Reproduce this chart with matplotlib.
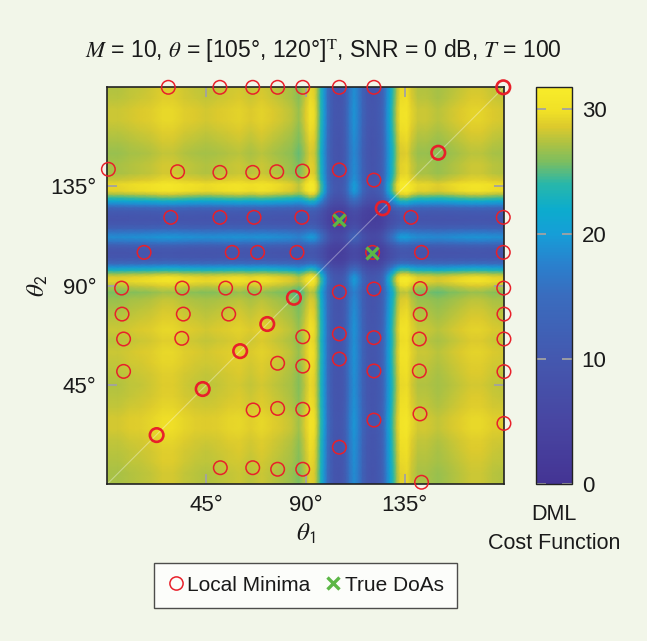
import numpy as np
import matplotlib
matplotlib.use("Agg")
import matplotlib.pyplot as plt
from matplotlib.colors import LinearSegmentedColormap
from matplotlib.lines import Line2D

plt.rcParams['font.family'] = ['Liberation Sans', 'DejaVu Sans']
plt.rcParams['mathtext.fontset'] = 'stix'

# ---- data ----
# 1-D cost profile (degrees, cost level) read across the image; the 2-D table is built from it
theta_grid = [0, 5, 10, 15, 20, 25, 30, 35, 40, 45, 50, 55, 60, 65, 70, 75, 80, 84, 87, 90,
              92, 94, 95.5, 97, 98.5, 100, 101.5, 103, 105, 107, 108.5, 110, 112, 114, 116,
              118, 120, 122, 124, 125.5, 127, 128.5, 130, 131.5, 133, 136, 138, 141, 145,
              150, 155, 160, 165, 170, 175, 180]
cost_profile = [28.5, 28.5, 28.8, 29.0, 29.3, 29.8, 29.8, 29.3, 29.0, 28.8, 29.0, 29.3, 29.5,
                29.0, 29.5, 29.0, 28.5, 28.0, 27.0, 29.0, 30.5, 30.0, 27.5, 24.0, 20.0, 15.5,
                12.0, 10.0, 9.5, 10.5, 13.0, 17.0, 19.5, 17.5, 13.0, 10.5, 9.5, 10.0, 11.5,
                14.5, 19.0, 22.5, 25.5, 28.5, 30.5, 30.8, 29.5, 28.5, 28.5, 28.0, 28.5, 29.0,
                29.5, 29.5, 29.0, 28.8]
cost_ref = 30.0

minima_theta1 = [27.7, 51.1, 66.0, 77.3, 88.7, 105.3, 121.0, 179.7,
                 0.5, 31.9, 51.1, 66.0, 76.9, 88.6, 105.3, 121.0, 150.2,
                 28.8, 51.1, 66.6, 88.3, 105.3, 125.0, 137.8, 179.7,
                 16.7, 56.7, 68.2, 86.1, 120.4, 142.6, 179.7,
                 6.5, 34.0, 53.7, 66.8, 84.7, 105.3, 121.0, 142.0, 179.9,
                 6.7, 34.5, 55.1, 72.6, 142.0, 180.0,
                 7.4, 33.8, 88.7, 105.3, 121.0, 141.6, 180.0,
                 60.3, 77.3, 88.7, 105.3, 121.0, 141.6, 180.0, 7.4,
                 43.3, 66.2, 77.3, 88.7, 121.0, 141.9, 180.0,
                 22.4, 51.3, 66.0, 77.3, 88.7, 105.3, 142.6]
minima_theta2 = [180.0, 180.0, 180.0, 180.0, 180.0, 180.0, 180.0, 180.0,
                 142.8, 141.7, 141.4, 141.4, 141.7, 142.0, 142.5, 137.9, 150.3,
                 121.0, 121.0, 121.0, 121.0, 120.6, 125.1, 121.0, 121.0,
                 105.1, 105.1, 105.1, 105.1, 105.1, 105.1, 105.1,
                 88.9, 88.9, 88.9, 88.9, 84.5, 87.1, 88.5, 88.7, 88.9,
                 77.1, 77.1, 77.1, 72.6, 77.0, 77.1,
                 65.8, 66.1, 66.8, 68.1, 66.4, 65.8, 65.8,
                 60.3, 54.8, 53.5, 56.7, 51.3, 51.3, 51.0, 51.1,
                 43.1, 33.6, 34.3, 33.9, 29.0, 31.8, 27.5,
                 22.2, 7.4, 7.4, 6.7, 6.7, 16.7, 0.8]

true_theta1 = [105, 120]
true_theta2 = [120, 105]

xticks = [45, 90, 135]
xtick_labels = ['45°', '90°', '135°']
cbar_ticks = [0, 10, 20, 30]
cmax = 31.7

# ---- colormap (style) ----
cb_levels = [0, 5, 10, 15, 17.5, 20, 22, 24, 25.8, 27.3, 28.6, 29.8, 31.7]
cb_colors = [(68, 52, 148), (72, 70, 162), (68, 88, 175), (58, 108, 190), (42, 128, 205),
             (22, 158, 215), (12, 172, 205), (40, 183, 170), (125, 190, 95), (175, 194, 66),
             (220, 202, 45), (240, 224, 38), (248, 236, 42)]
cmap = LinearSegmentedColormap.from_list(
    'ref', [(l / cmax, tuple(c / 255 for c in col)) for l, col in zip(cb_levels, cb_colors)])

bg = '#f2f6e9'
fig = plt.figure(figsize=(6.47, 6.41), dpi=100, facecolor=bg)
ax = fig.add_axes([0.1658, 0.2449, 0.6131, 0.6189])
cax = fig.add_axes([0.8284, 0.2449, 0.0556, 0.6189])

prof = np.array(cost_profile)
table = np.outer(prof, prof) / cost_ref
mesh = ax.pcolormesh(theta_grid, theta_grid, table, shading='gouraud', cmap=cmap,
                     vmin=0, vmax=cmax, rasterized=True)
ax.plot([0, 180], [0, 180], color='white', alpha=0.35, lw=0.8, zorder=2)

m1 = np.array(minima_theta1)
m2 = np.array(minima_theta2)
lws = np.where(np.abs(m1 - m2) < 1.0, 1.9, 1.1)
ax.scatter(m1, m2, s=95, facecolors='none', edgecolors='#e8202a', linewidths=lws,
           clip_on=False, zorder=4)
ax.plot(true_theta1, true_theta2, ls='none', marker='x', ms=9, mew=2.4,
        color='#5cb746', zorder=5, clip_on=False)

ax.set_xlim(0, 180)
ax.set_ylim(0, 180)
ax.set_xticks(xticks)
ax.set_xticklabels(xtick_labels)
ax.set_yticks(xticks)
ax.set_yticklabels(xtick_labels)
ax.tick_params(direction='in', length=7, width=1.3, color='#a2a2a2', top=True, right=True,
               labelsize=16, pad=8, labelcolor='#1a1a1a')
for s in ax.spines.values():
    s.set_linewidth(1.2)
    s.set_color('#222222')
ax.set_xlabel(r'$\theta_{\mathsf{1}}$', fontsize=18, labelpad=4, color='#1a1a1a')
ax.set_ylabel(r'$\theta_{\mathsf{2}}$', fontsize=18, labelpad=0, color='#1a1a1a')

cb = fig.colorbar(mesh, cax=cax, ticks=cbar_ticks)
cb.outline.set_linewidth(1.0)
cb.outline.set_edgecolor('#222222')
cax.yaxis.set_ticks_position('both')
cax.tick_params(direction='in', length=7, width=1.3, color='#a2a2a2', labelsize=16,
                labelleft=False, labelright=True, pad=7, labelcolor='#1a1a1a')
cax.text(0.5, -0.05, 'DML\nCost Function', transform=cax.transAxes, ha='center',
         va='top', fontsize=15.5, color='#1a1a1a', linespacing=1.5)

fig.text(0.5, 0.920, r'$M$ = 10, $\theta$ = [105°, 120°]$^{\mathrm{T}}$, SNR = 0 dB, $T$ = 100',
         ha='center', va='center', fontsize=16.5, color='#1a1a1a')

handles = [Line2D([], [], ls='none', marker='o', ms=9.5, mfc='none', mec='#e8202a', mew=1.1),
           Line2D([], [], ls='none', marker='x', ms=8.5, mew=2.4, color='#5cb746')]
leg = fig.legend(handles, ['Local Minima', 'True DoAs'], loc='center',
                 bbox_to_anchor=(0.472, 0.087), ncol=2, fontsize=15, frameon=True,
                 fancybox=False, edgecolor='#222222', handlelength=0.8, handletextpad=0.15,
                 columnspacing=0.7, borderpad=0.62, borderaxespad=0)
leg.get_frame().set_linewidth(1.0)
for t in leg.get_texts():
    t.set_color('#1a1a1a')

fig.savefig('out.png', dpi=100, facecolor=bg)
